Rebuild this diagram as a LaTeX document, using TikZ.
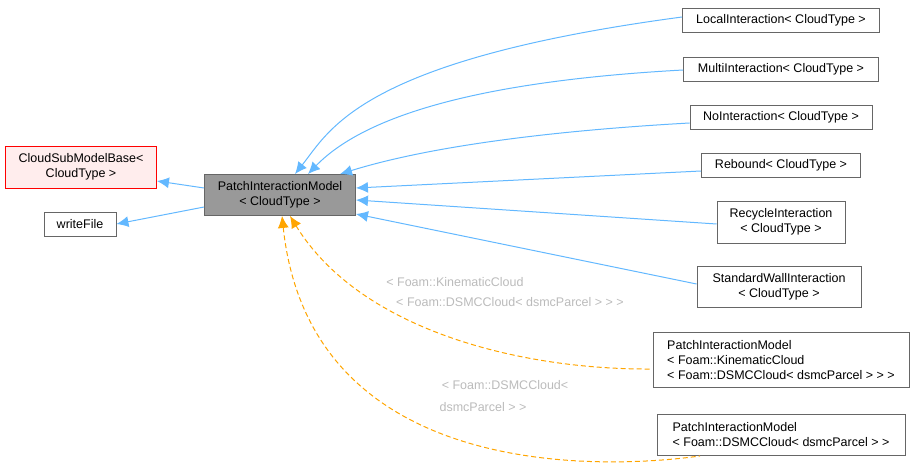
\documentclass[tikz,border=0pt]{standalone}
\usepackage{fontspec}
\setmainfont{Liberation Sans}
\usetikzlibrary{arrows.meta}
\definecolor{edgeblue}{HTML}{63B8FF}
\definecolor{edgeorange}{HTML}{FFA500}
\definecolor{boxgrey}{HTML}{999999}
\definecolor{boxline}{HTML}{666666}
\definecolor{lblgrey}{HTML}{BBBBBB}
\begin{document}
\begin{tikzpicture}[x=1pt, y=-1pt, font=\fontsize{12.5}{15}\selectfont,
    cls/.style={draw=boxline, rectangle, align=center, inner sep=3pt, line width=0.9pt},
    inh/.style={{Latex[length=12pt,width=11pt]}-, draw=edgeblue, line width=1pt},
    tpl/.style={{Latex[length=12pt,width=11pt]}-, draw=edgeorange, line width=1pt, dash pattern=on 5pt off 3pt},
    lbl/.style={text=lblgrey}]
    \useasboundingbox (0,0) rectangle (915,473);
    % nodes
    \node[cls, draw=red, fill=red!7, minimum width=151pt, minimum height=42pt] (base) at (81,167) {CloudSubModelBase\textless\\CloudType \textgreater};
    \node[cls, minimum width=72pt, minimum height=24pt] (wf) at (80,224) {writeFile};
    \node[cls, fill=boxgrey, minimum width=151pt, minimum height=41pt] (pim) at (280,195) {PatchInteractionModel\\\textless{} CloudType \textgreater};

    \node[cls, minimum width=197pt, minimum height=24pt] (local) at (781,20) {LocalInteraction\textless{} CloudType \textgreater};
    \node[cls, minimum width=195pt, minimum height=24pt] (multi) at (781,69) {MultiInteraction\textless{} CloudType \textgreater};
    \node[cls, minimum width=182pt, minimum height=24pt] (noint) at (781,117) {NoInteraction\textless{} CloudType \textgreater};
    \node[cls, minimum width=159pt, minimum height=24pt] (rebound) at (781,165) {Rebound\textless{} CloudType \textgreater};
    \node[cls, minimum width=128pt, minimum height=42pt] (recycle) at (781,222) {RecycleInteraction\\\textless{} CloudType \textgreater};
    \node[cls, minimum width=164pt, minimum height=41pt] (standard) at (779,287) {StandardWallInteraction\\\textless{} CloudType \textgreater};
    \node[cls, minimum width=256pt, minimum height=55pt, align=left] (kin) at (781,360) {PatchInteractionModel\\\textless{} Foam::KinematicCloud\\\textless{} Foam::DSMCCloud\textless{} dsmcParcel \textgreater{} \textgreater{} \textgreater};
    \node[cls, minimum width=248pt, minimum height=41pt, align=left] (dsmc) at (781,435) {PatchInteractionModel\\\textless{} Foam::DSMCCloud\textless{} dsmcParcel \textgreater{} \textgreater};

    % labels
    \node[lbl] (kinl1) at (455,282) {\textless{} Foam::KinematicCloud};
    \node[lbl] (kinl2) at (510,302) {\textless{} Foam::DSMCCloud\textless{} dsmcParcel \textgreater{} \textgreater{} \textgreater};
    \node[lbl] (dsl1) at (505,385) {\textless{} Foam::DSMCCloud\textless};
    \node[lbl] (dsl2) at (483,407) {dsmcParcel \textgreater{} \textgreater};

    % edges
    \draw[inh] (base.east |- 0,181) -- (pim.west |- 0,188);
    \draw[inh] (wf.east) -- (pim.west |- 0,207);
    \draw[inh] (pim.north -| 295,0) .. controls (330,130) and (360,60) .. (local.west |- 0,17);
    \draw[inh] (pim.north -| 308,0) .. controls (370,110) and (500,80) .. (multi.west |- 0,70);
    \draw[inh] (pim.north -| 340,0) .. controls (450,140) and (600,128) .. (noint.west |- 0,123);
    \draw[inh] (pim.east |- 0,188) -- (rebound.west |- 0,171);
    \draw[inh] (pim.east |- 0,200) -- (recycle.west |- 0,224);
    \draw[inh] (pim.east |- 0,214) -- (standard.west |- 0,284);
    \draw[tpl] (pim.south -| 290,0) .. controls (360,330) and (520,370) .. (kin.west |- 0,369);
    \draw[tpl] (pim.south -| 282,0) .. controls (310,480) and (600,470) .. (dsmc.south -| 700,0);
\end{tikzpicture}
\end{document}
